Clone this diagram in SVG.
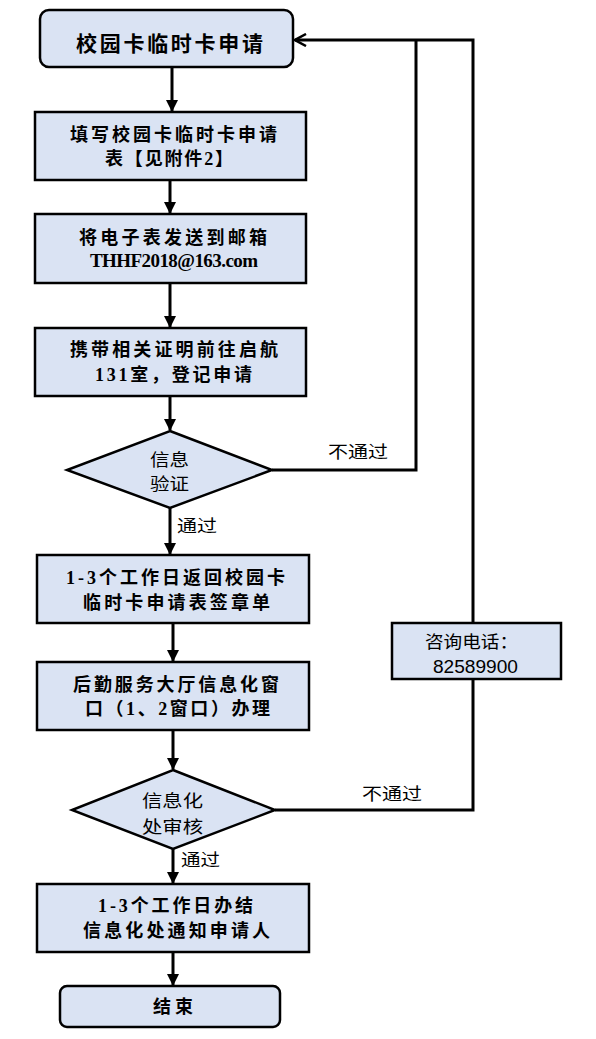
<svg xmlns="http://www.w3.org/2000/svg" width="596" height="1039" viewBox="0 0 596 1039">
<style>
.box{fill:#dae3f3;stroke:#000;stroke-width:2.5}
.t{font-family:"Liberation Serif","Noto Sans CJK SC",serif;font-size:18px;font-weight:bold;fill:#000}
.s{font-family:"Liberation Sans","Noto Sans CJK SC",sans-serif;font-size:17px;fill:#000}
.c{fill:none;stroke:#000;stroke-width:3}
</style>
<defs>
<marker id="ah" markerWidth="12" markerHeight="12" viewBox="0 0 12 12" refX="11" refY="6" orient="auto" markerUnits="userSpaceOnUse">
<path d="M0,0 L12,6 L0,12 Z" fill="#000"/>
</marker>
<marker id="oa" markerWidth="14" markerHeight="14" viewBox="0 0 14 14" refX="13" refY="7" orient="auto" markerUnits="userSpaceOnUse">
<path d="M2,1 L13,7 L2,13" fill="none" stroke="#000" stroke-width="2.5"/>
</marker>
</defs>
<g id="connectors">
<line class="c" x1="172" y1="67" x2="172" y2="111" marker-end="url(#ah)"/>
<line class="c" x1="170" y1="180" x2="170" y2="213" marker-end="url(#ah)"/>
<line class="c" x1="170" y1="283" x2="170" y2="327" marker-end="url(#ah)"/>
<line class="c" x1="170" y1="396" x2="170" y2="430" marker-end="url(#ah)"/>
<line class="c" x1="170" y1="508" x2="170" y2="554" marker-end="url(#ah)"/>
<line class="c" x1="173" y1="623" x2="173" y2="661" marker-end="url(#ah)"/>
<line class="c" x1="173" y1="730" x2="173" y2="769" marker-end="url(#ah)"/>
<line class="c" x1="173" y1="849" x2="173" y2="883" marker-end="url(#ah)"/>
<line class="c" x1="173" y1="952" x2="173" y2="985" marker-end="url(#ah)"/>
<polyline class="c" points="272,470 416,470 416,40"/>
<polyline class="c" points="275,810 473,810 473,679"/>
<polyline class="c" points="473,623 473,40 295,40" marker-end="url(#oa)"/>
<text class="s" x="328" y="458" textLength="60" lengthAdjust="spacingAndGlyphs">不通过</text>
<text class="s" x="177" y="532" textLength="40" lengthAdjust="spacingAndGlyphs">通过</text>
<text class="s" x="362" y="800" textLength="60" lengthAdjust="spacingAndGlyphs">不通过</text>
<text class="s" x="181" y="866" textLength="39" lengthAdjust="spacingAndGlyphs">通过</text>
</g>
<g id="start">
<rect class="box" x="40" y="10" width="253" height="57" rx="9"/>
<text class="t" x="76" y="51" style="font-size:21px" textLength="187" lengthAdjust="spacing">校园卡临时卡申请</text>
</g>
<g id="fill-form">
<rect class="box" x="35" y="112" width="271" height="68"/>
<text class="t" x="70" y="141" textLength="207" lengthAdjust="spacing">填写校园卡临时卡申请</text>
<text class="t" x="105" y="165" textLength="128" lengthAdjust="spacing">表【见附件2】</text>
</g>
<g id="email">
<rect class="box" x="35" y="214" width="271" height="69"/>
<text class="t" x="79" y="244" textLength="188" lengthAdjust="spacing">将电子表发送到邮箱</text>
<text class="t" x="90" y="267" style="font-size:19px" textLength="168" lengthAdjust="spacing">THHF2018@163.com</text>
</g>
<g id="register">
<rect class="box" x="35" y="328" width="271" height="68"/>
<text class="t" x="70" y="356" textLength="208" lengthAdjust="spacing">携带相关证明前往启航</text>
<text class="t" x="95" y="381" textLength="157" lengthAdjust="spacing">131室，登记申请</text>
</g>
<g id="verify">
<polygon class="box" points="170,431 272,470 170,508 67,470"/>
<text class="s" x="150" y="466" textLength="39" lengthAdjust="spacingAndGlyphs">信息</text>
<text class="s" x="150" y="490" textLength="39" lengthAdjust="spacingAndGlyphs">验证</text>
</g>
<g id="return-form">
<rect class="box" x="37" y="555" width="272" height="68"/>
<text class="t" x="66" y="584" textLength="219" lengthAdjust="spacing">1-3个工作日返回校园卡</text>
<text class="t" x="83" y="609" textLength="187" lengthAdjust="spacing">临时卡申请表签章单</text>
</g>
<g id="service-hall">
<rect class="box" x="37" y="662" width="272" height="68"/>
<text class="t" x="73" y="691" textLength="206" lengthAdjust="spacing">后勤服务大厅信息化窗</text>
<text class="t" x="85" y="715" textLength="185" lengthAdjust="spacing">口（1、2窗口）办理</text>
</g>
<g id="review">
<polygon class="box" points="173,770 275,810 173,849 72,810"/>
<text class="s" x="142" y="807" textLength="61" lengthAdjust="spacingAndGlyphs">信息化</text>
<text class="s" x="142" y="833" textLength="61" lengthAdjust="spacingAndGlyphs">处审核</text>
</g>
<g id="notify">
<rect class="box" x="37" y="884" width="272" height="68"/>
<text class="t" x="98" y="912" textLength="155" lengthAdjust="spacing">1-3个工作日办结</text>
<text class="t" x="83" y="937" textLength="187" lengthAdjust="spacing">信息化处通知申请人</text>
</g>
<g id="end">
<rect class="box" x="60" y="986" width="220" height="41" rx="7"/>
<text class="t" x="153" y="1013" textLength="40" lengthAdjust="spacing">结束</text>
</g>
<g id="contact">
<rect class="box" x="392" y="623" width="169" height="56"/>
<text class="s" x="425" y="648" textLength="93" lengthAdjust="spacingAndGlyphs">咨询电话：</text>
<text class="s" x="433" y="673" style="font-size:18px" textLength="85" lengthAdjust="spacingAndGlyphs">82589900</text>
</g>
</svg>
